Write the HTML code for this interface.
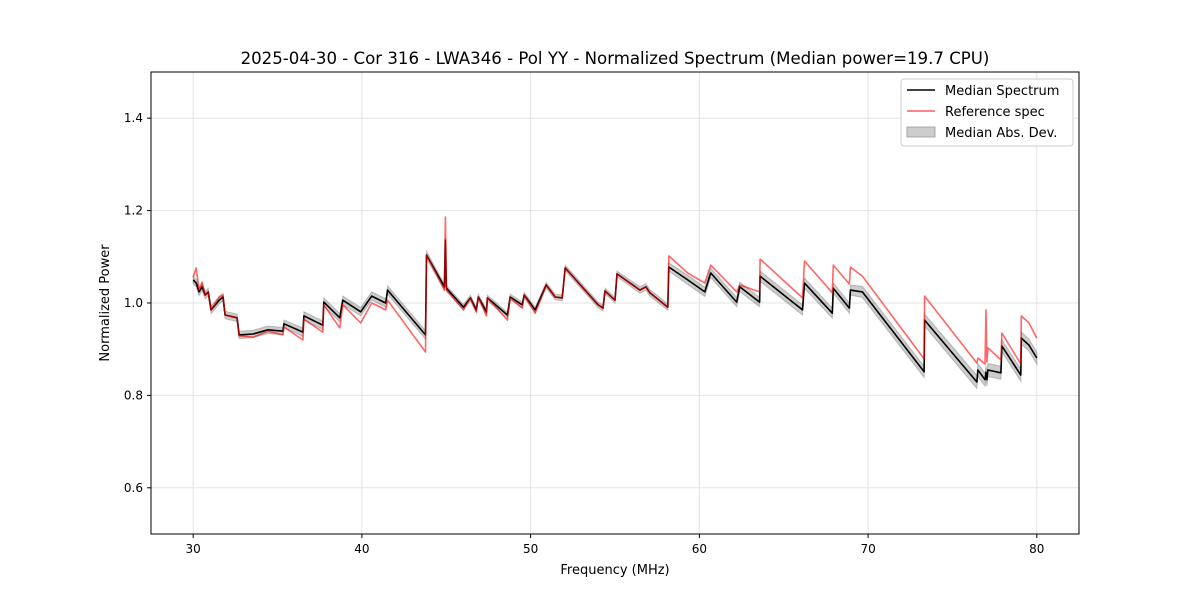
<!DOCTYPE html>
<html><head><meta charset="utf-8"><style>
html,body{margin:0;padding:0;background:#fff;}
svg{display:block;font-family:"DejaVu Sans","Liberation Sans",sans-serif;}
</style></head><body>
<svg id="chart" width="1200" height="600">
<rect x="0" y="0" width="1200" height="600" fill="#fff"/>
<text x="615" y="64" text-anchor="middle" font-size="16.6">2025-04-30 - Cor 316 - LWA346 - Pol YY - Normalized Spectrum (Median power=19.7 CPU)</text>
<g id="grid"></g>
<g id="plot"></g>
<rect x="151" y="72" width="928" height="462" fill="none" stroke="#000" stroke-width="1"/>
<g id="ticks"></g>
<text x="615" y="574" text-anchor="middle" font-size="13">Frequency (MHz)</text>
<text transform="translate(109,303) rotate(-90)" text-anchor="middle" font-size="13">Normalized Power</text>
<g>
<rect x="901" y="79" width="172" height="67" rx="3" fill="#fff" fill-opacity="0.85" stroke="#ccc"/>
<g><line x1="907" y1="90" x2="935" y2="90" stroke="#000" stroke-width="1.5"/><text x="945" y="95" font-size="13">Median Spectrum</text></g>
<g><line x1="907" y1="111" x2="935" y2="111" stroke="#ff5c5c" stroke-width="1.5"/><text x="945" y="116" font-size="13">Reference spec</text></g>
<g><rect x="907" y="127" width="28" height="10" fill="#000" fill-opacity="0.2" stroke="#999" stroke-width="0.8"/><text x="945" y="137" font-size="13">Median Abs. Dev.</text></g>
</g>
</svg>
<script>
const freqs=[30.00,30.18,30.35,30.53,30.71,30.89,31.06,31.54,31.77,31.89,32.60,32.72,33.55,34.43,35.32,35.38,36.50,36.56,37.68,37.74,38.69,38.87,39.93,40.58,41.41,41.52,43.77,43.83,44.89,44.95,45.01,46.02,46.43,46.78,46.90,47.38,47.44,48.62,48.79,49.50,49.62,50.27,50.92,51.45,51.87,52.05,54.00,54.29,54.41,55.00,55.12,56.48,56.83,57.07,58.13,58.19,59.31,60.32,60.67,62.21,62.39,63.57,63.60,66.11,66.23,67.88,67.94,68.89,68.95,69.66,73.32,73.35,76.45,76.51,76.93,76.99,77.04,77.10,77.87,77.93,79.05,79.08,79.53,80.00];
const median=[1.050,1.043,1.024,1.035,1.017,1.024,0.985,1.006,1.013,0.974,0.968,0.931,0.933,0.942,0.939,0.955,0.937,0.972,0.952,1.002,0.968,1.006,0.981,1.015,1.000,1.028,0.931,1.104,1.035,1.136,1.032,0.991,1.011,0.985,1.013,0.981,1.011,0.974,1.013,0.996,1.017,0.985,1.039,1.013,1.011,1.076,0.996,0.989,1.026,1.006,1.063,1.028,1.035,1.022,0.991,1.078,1.050,1.024,1.065,1.002,1.035,1.002,1.058,0.985,1.043,0.978,1.032,0.989,1.028,1.024,0.851,0.963,0.829,0.855,0.834,0.850,0.834,0.855,0.849,0.907,0.844,0.924,0.909,0.881];
const reference=[1.056,1.076,1.028,1.045,1.017,1.024,0.985,1.013,1.017,0.974,0.968,0.929,0.926,0.939,0.931,0.948,0.920,0.965,0.937,0.996,0.946,0.996,0.957,1.000,0.985,1.006,0.894,1.104,1.028,1.186,1.028,0.985,1.011,0.981,1.013,0.972,1.011,0.963,1.011,0.989,1.017,0.978,1.039,1.013,1.011,1.076,0.996,0.989,1.026,1.006,1.063,1.028,1.035,1.022,0.991,1.102,1.065,1.043,1.082,1.024,1.039,1.024,1.095,1.011,1.091,1.022,1.082,1.041,1.078,1.058,0.879,1.015,0.870,0.881,0.868,0.985,0.872,0.903,0.877,0.935,0.868,0.972,0.957,0.924];
const mad=[0.008,0.008,0.008,0.008,0.008,0.008,0.008,0.008,0.008,0.008,0.008,0.008,0.008,0.008,0.008,0.008,0.009,0.009,0.009,0.009,0.009,0.009,0.009,0.009,0.009,0.009,0.009,0.008,0.006,0.006,0.006,0.006,0.006,0.006,0.006,0.006,0.006,0.006,0.006,0.006,0.006,0.006,0.006,0.006,0.006,0.006,0.006,0.006,0.006,0.006,0.006,0.007,0.007,0.007,0.007,0.009,0.010,0.010,0.010,0.010,0.010,0.010,0.011,0.011,0.011,0.011,0.011,0.011,0.011,0.012,0.012,0.013,0.014,0.014,0.014,0.014,0.014,0.014,0.014,0.013,0.013,0.013,0.013,0.013];
const xTicks=[30,40,50,60,70,80];
const yTicks=[0.6,0.8,1.0,1.2,1.4];
const yTickLabels=["0.6","0.8","1.0","1.2","1.4"];

const X0=151,X1=1079,Y0=72,Y1=534,xmin=27.5,xmax=82.5,ymin=0.5,ymax=1.5;
const sx=f=>X0+(f-xmin)/(xmax-xmin)*(X1-X0);
const sy=v=>Y1-(v-ymin)/(ymax-ymin)*(Y1-Y0);
const NS='http://www.w3.org/2000/svg';
function mk(tag,attrs,parent){const e=document.createElementNS(NS,tag);for(const k in attrs)e.setAttribute(k,attrs[k]);parent.appendChild(e);return e;}
const grid=document.getElementById('grid'),plot=document.getElementById('plot'),ticks=document.getElementById('ticks');
xTicks.forEach(t=>{
  const g=mk('line',{x1:sx(t),x2:sx(t),y1:Y0,y2:Y1,stroke:'#e3e3e3','stroke-width':1},grid);
  
  
  const tk=mk('line',{x1:sx(t),x2:sx(t),y1:Y1,y2:Y1+4,stroke:'#000'},ticks);
  
  
  const lb=mk('text',{x:sx(t),y:Y1+19,'text-anchor':'middle','font-size':12},ticks);
  lb.textContent=String(t);
  
  
});
yTicks.forEach((t,i)=>{
  const g=mk('line',{x1:X0,x2:X1,y1:sy(t),y2:sy(t),stroke:'#e3e3e3','stroke-width':1},grid);
  
  
  const tk=mk('line',{x1:X0-4,x2:X0,y1:sy(t),y2:sy(t),stroke:'#000'},ticks);
  
  
  const lb=mk('text',{x:X0-8,y:sy(t)+4,'text-anchor':'end','font-size':12},ticks);
  lb.textContent=yTickLabels[i];
  
  
});
let up=freqs.map((f,i)=>sx(f).toFixed(1)+','+sy(median[i]+mad[i]).toFixed(1));
let dn=freqs.map((f,i)=>sx(f).toFixed(1)+','+sy(median[i]-mad[i]).toFixed(1)).reverse();
const band=mk('polygon',{points:up.concat(dn).join(' '),fill:'#000','fill-opacity':0.2,stroke:'#888','stroke-opacity':0.5,'stroke-width':1},plot);


const ml=mk('polyline',{points:freqs.map((f,i)=>sx(f).toFixed(1)+','+sy(median[i]).toFixed(1)).join(' '),fill:'none',stroke:'#000','stroke-width':1.6,'stroke-linejoin':'round'},plot);


const rl=mk('polyline',{points:freqs.map((f,i)=>sx(f).toFixed(1)+','+sy(reference[i]).toFixed(1)).join(' '),fill:'none',stroke:'#ff0000','stroke-opacity':0.6,'stroke-width':1.6,'stroke-linejoin':'round'},plot);


</script>
</body></html>
